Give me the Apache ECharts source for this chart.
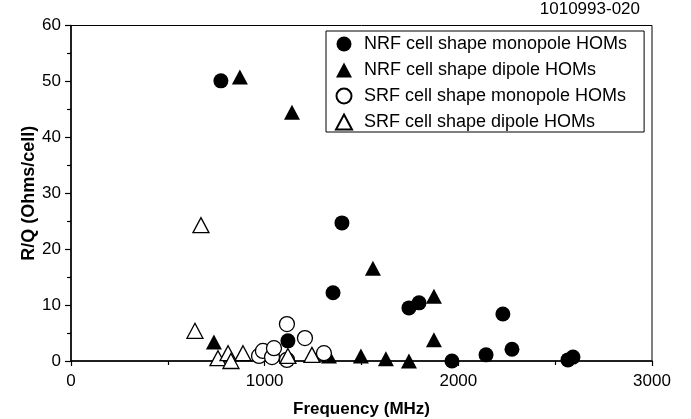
<!DOCTYPE html>
<html><head><meta charset="utf-8">
<script src="https://cdn.jsdelivr.net/npm/echarts@6/dist/echarts.min.js"></script>
<style>html,body{margin:0;padding:0;background:#fff}#c{width:691px;height:419px}</style>
</head><body><div id="c"></div>
<script>
var seriesNames = ['NRF cell shape monopole HOMs','NRF cell shape dipole HOMs','SRF cell shape monopole HOMs','SRF cell shape dipole HOMs'];
var nrfMonoFreq = [774, 1120, 1353, 1399, 1745, 1797, 1967, 2143, 2230, 2277, 2566, 2592];
var nrfMonoRQ   = [50.1, 3.6, 12.2, 24.7, 9.5, 10.4, 0.0, 1.1, 8.4, 2.1, 0.2, 0.7];
var nrfDipFreq  = [738, 872, 1141, 1332, 1497, 1559, 1626, 1745, 1874, 1874];
var nrfDipRQ    = [3.4, 50.8, 44.5, 0.9, 0.9, 16.6, 0.4, 0.0, 11.6, 3.8];
var srfMonoFreq = [971, 991, 1038, 1048, 1115, 1115, 1208, 1306];
var srfMonoRQ   = [0.9, 1.8, 0.7, 2.3, 6.6, 0.2, 4.1, 1.4];
var srfDipFreq  = [640, 671, 759, 811, 826, 888, 1120, 1244];
var srfDipRQ    = [5.4, 24.3, 0.5, 1.4, 0.0, 1.4, 0.9, 1.1];
var xTicks = [0, 1000, 2000, 3000];
var yTicks = [0, 10, 20, 30, 40, 50, 60];

function pairs(xs, ys){ return xs.map(function(x,i){ return [x, ys[i]]; }); }
var F = 'Liberation Sans, Arial, sans-serif';
var chart = echarts.init(document.getElementById('c'), null, {renderer:'canvas'});
var filled = {color:'#000', opacity:1};
var open = {color:'#fff', borderColor:'#000', borderWidth:1.3, opacity:1};
chart.setOption({
  animation:false,
  backgroundColor:'#fff',
  title:{text:'1010993-020', right:51, top:1, padding:0, textStyle:{fontFamily:F, fontSize:17, fontWeight:'normal', color:'#000'}},
  grid:{left:71, right:39, top:25.5, bottom:58, containLabel:false, outerBoundsMode:'none', show:true, borderColor:'#000', borderWidth:1, backgroundColor:'transparent'},
  legend:{
    data:seriesNames, orient:'vertical', left:326, top:31,
    padding:[4,17,1,9], itemWidth:16, itemHeight:15, itemGap:8,
    borderColor:'#000', borderWidth:1, backgroundColor:'#fff',
    textStyle:{fontFamily:F, fontSize:18, color:'#000', padding:[0,0,0,7]},
    selectedMode:false
  },
  xAxis:{
    type:'value', min:0, max:3000, interval:1000,
    name:'Frequency (MHz)', nameLocation:'middle', nameGap:40, nameMoveOverlap:false,
    nameTextStyle:{fontFamily:F, fontSize:17, fontWeight:'bold', color:'#000'},
    axisLine:{lineStyle:{color:'#000', width:1.5}},
    axisTick:{inside:false, length:5, lineStyle:{color:'#000', width:1.2}},
    minorTick:{show:true, splitNumber:2, length:4, lineStyle:{color:'#000', width:1.2}},
    axisLabel:{margin:12, fontFamily:F, fontSize:17, color:'#000',
      formatter:function(v){ return xTicks.indexOf(v) >= 0 ? String(v) : ''; }},
    splitLine:{show:false}
  },
  yAxis:{
    type:'value', min:0, max:60, interval:10,
    name:'R/Q (Ohms/cell)', nameLocation:'middle', nameGap:33, nameMoveOverlap:false,
    nameTextStyle:{fontFamily:F, fontSize:18, fontWeight:'bold', color:'#000'},
    axisLine:{show:true, lineStyle:{color:'#000', width:1.5}},
    axisTick:{show:true, inside:false, length:6, lineStyle:{color:'#000', width:1.2}},
    minorTick:{show:true, splitNumber:2, length:4, lineStyle:{color:'#000', width:1.2}},
    axisLabel:{margin:10, fontFamily:F, fontSize:17, color:'#000',
      formatter:function(v){ return yTicks.indexOf(v) >= 0 ? String(v) : ''; }},
    splitLine:{show:false}
  },
  series:[
    {name:seriesNames[0], type:'scatter', symbol:'circle', symbolSize:15, itemStyle:filled, data:pairs(nrfMonoFreq, nrfMonoRQ)},
    {name:seriesNames[1], type:'scatter', symbol:'triangle', symbolSize:[16,15], itemStyle:filled, data:pairs(nrfDipFreq, nrfDipRQ)},
    {name:seriesNames[2], type:'scatter', symbol:'circle', symbolSize:15, itemStyle:open, data:pairs(srfMonoFreq, srfMonoRQ)},
    {name:seriesNames[3], type:'scatter', symbol:'triangle', symbolSize:[16,15], itemStyle:open, data:pairs(srfDipFreq, srfDipRQ)}
  ]
});
</script></body></html>
